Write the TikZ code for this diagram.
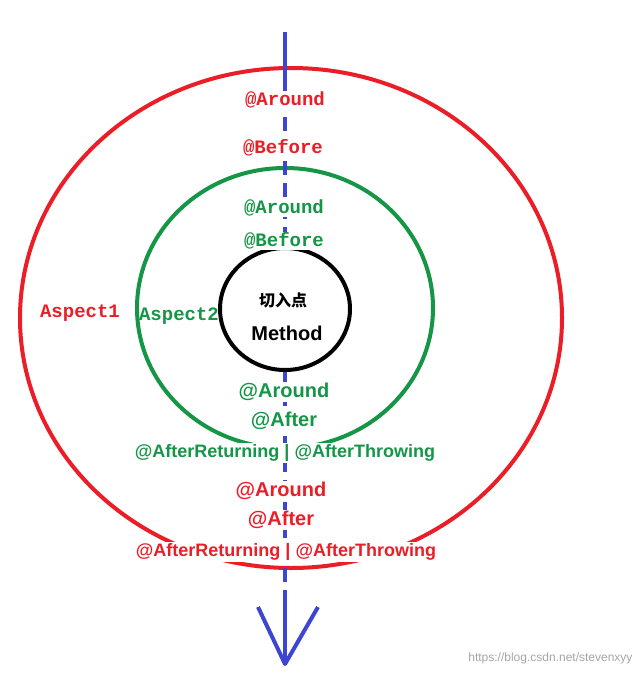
\documentclass[tikz,border=0pt]{standalone}
\usepackage{fontspec}
\setmainfont{Liberation Sans}
\newfontfamily\monof{Liberation Mono}
\newfontfamily\cjk{Noto Sans CJK SC}
\definecolor{rd}{RGB}{235,30,40}
\definecolor{gn}{RGB}{20,150,70}
\definecolor{bl}{RGB}{60,70,210}
\begin{document}
\begin{tikzpicture}[x=1pt,y=-1pt,
 mono/.style={font=\monof\bfseries\fontsize{19}{19}\selectfont,fill=white,inner sep=1pt},
 sans/.style={font=\bfseries\fontsize{20}{20}\selectfont,fill=white,inner sep=1pt},
 sansS/.style={font=\bfseries\fontsize{18}{18}\selectfont,fill=white,inner sep=1pt}]
\useasboundingbox (0,0) rectangle (644,677);
\fill[white] (0,0) rectangle (644,677);
\draw[rd,line width=4pt] (291,318) ellipse [x radius=271,y radius=250];
\draw[gn,line width=4pt] (285,308) ellipse [x radius=148,y radius=140];
\draw[bl,line width=4pt] (285,32) -- (285,95);
\draw[bl,line width=4pt,dash pattern=on 14pt off 8pt] (285,95) -- (285,248);
\draw[bl,line width=4pt,dash pattern=on 14pt off 8pt] (285,370) -- (285,600);
\coordinate (tip) at (285,664);
\coordinate (la) at (258,607);
\coordinate (ra) at (318,607);
\draw[bl,line width=4pt] (285,600) -- (tip);
\draw[bl,line width=4pt,line join=round] (la) -- (tip) -- (ra);
\draw[black,line width=4pt,fill=white] (285,309) ellipse [x radius=65,y radius=61];
\node[mono,text=rd] (a1) at (285,100) {@Around};
\node[mono,text=rd] (b1) at (283,148) {@Before};
\node[mono,text=rd,fill=none] (asp1) at (80,313) {Aspect1};
\node[mono,text=gn] (a2) at (284,208) {@Around};
\node[mono,text=gn] (b2) at (284,241) {@Before};
\node[mono,text=gn,fill=none] (asp2) at (179,316) {Aspect2};
\node[font=\cjk\bfseries\fontsize{16}{16}\selectfont] (qr) at (283,300) {切入点};
\node[font=\bfseries\fontsize{20}{20}\selectfont] (m) at (287,333) {Method};
\node[sans,text=gn] (a3) at (284,392) {@Around};
\node[sans,text=gn] (f3) at (284,421) {@After};
\node[sansS,text=gn] (r3) at (285,453) {@AfterReturning | @AfterThrowing};
\node[sans,text=rd] (a4) at (281,491) {@Around};
\node[sans,text=rd] (f4) at (281,520) {@After};
\node[sansS,text=rd] (r4) at (286,552) {@AfterReturning | @AfterThrowing};
\node[text=gray!70,font=\fontsize{12}{12}\selectfont,anchor=east] (wm) at (636,658) {https://blog.csdn.net/stevenxyy};
\end{tikzpicture}
\end{document}
